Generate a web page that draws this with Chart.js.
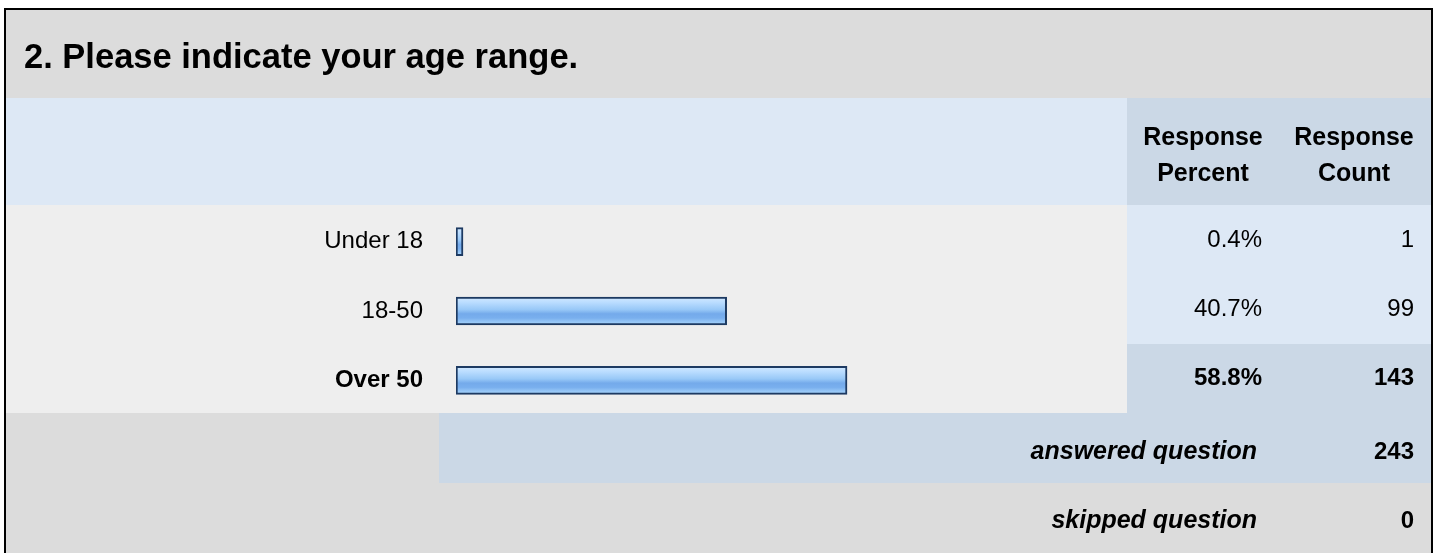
<!DOCTYPE html>
<html>
<head>
<meta charset="utf-8">
<script src="https://cdn.jsdelivr.net/npm/chart.js@4"></script>
<style>
  html, body { margin: 0; padding: 0; background: #ffffff; }
  #wrap { position: absolute; left: 0; top: 0; width: 1434px; height: 553px; }
</style>
</head>
<body>
<div id="wrap"><canvas id="c" width="1434" height="553"></canvas></div>
<script>
// ---- data ----
const title = "2. Please indicate your age range.";
const categories = ["Under 18", "18-50", "Over 50"];
const percents = [0.4, 40.7, 58.8];
const counts = [1, 99, 143];
const headerPercent = ["Response", "Percent"];
const headerCount = ["Response", "Count"];
const answeredLabel = "answered question";
const answeredCount = 243;
const skippedLabel = "skipped question";
const skippedCount = 0;

const FONT = '"Liberation Sans", Arial, Helvetica, sans-serif';
const maxIdx = percents.indexOf(Math.max(...percents));

const C_GRAY = '#dcdcdc', C_LIGHT = '#eeeeee', C_BLUE1 = '#dde8f5', C_BLUE2 = '#cbd8e6';

const tablePlugin = {
  id: 'table',
  beforeDraw(chart) {
    const ctx = chart.ctx;
    ctx.save();
    // outer background
    ctx.fillStyle = C_GRAY; ctx.fillRect(6, 10, 1425, 560);
    // header row
    ctx.fillStyle = C_BLUE1; ctx.fillRect(6, 98, 1121, 107);
    ctx.fillStyle = C_BLUE2; ctx.fillRect(1127, 98, 304, 107);
    // data rows
    ctx.fillStyle = C_LIGHT; ctx.fillRect(6, 205, 1121, 208);
    ctx.fillStyle = C_BLUE1; ctx.fillRect(1127, 205, 304, 208);
    // highlighted (max) row
    const rowH = 208 / categories.length;
    ctx.fillStyle = C_BLUE2; ctx.fillRect(1127, Math.round(205 + rowH * maxIdx), 304, Math.round(rowH));
    // answered row
    ctx.fillStyle = C_BLUE2; ctx.fillRect(439, 413, 992, 70);
    // outer border
    ctx.fillStyle = '#000';
    ctx.fillRect(4, 8, 1429, 2);
    ctx.fillRect(4, 8, 2, 560);
    ctx.fillRect(1431, 8, 2, 560);

    // title
    ctx.fillStyle = '#000';
    ctx.textBaseline = 'alphabetic';
    ctx.textAlign = 'left';
    ctx.font = 'bold 34.5px ' + FONT;
    ctx.fillText(title, 24, 68);
    // header
    ctx.textAlign = 'center';
    ctx.font = 'bold 25px ' + FONT;
    ctx.fillText(headerPercent[0], 1203, 145);
    ctx.fillText(headerPercent[1], 1203, 181);
    ctx.fillText(headerCount[0], 1354, 145);
    ctx.fillText(headerCount[1], 1354, 181);
    // footer
    ctx.textAlign = 'right';
    ctx.font = 'italic bold 25px ' + FONT;
    ctx.fillText(answeredLabel, 1257, 459);
    ctx.fillText(skippedLabel, 1257, 528);
    ctx.font = 'bold 24px ' + FONT;
    ctx.fillText(String(answeredCount), 1414, 459);
    ctx.fillText(String(skippedCount), 1414, 528);
    ctx.restore();
  },
  afterDatasetsDraw(chart) {
    const ctx = chart.ctx;
    const ys = chart.scales.y;
    ctx.save();
    ctx.fillStyle = '#000';
    ctx.textAlign = 'right';
    ctx.textBaseline = 'middle';
    categories.forEach((c, i) => {
      const y = ys.getPixelForValue(i) - 1.5;
      ctx.font = (i === maxIdx ? 'bold 24px ' : '24px ') + FONT;
      ctx.fillText(percents[i].toFixed(1) + '%', 1262, y);
      ctx.fillText(String(counts[i]), 1414, y);
    });
    ctx.restore();
  }
};

function barGradient(context) {
  const chart = context.chart;
  if (!chart.chartArea || !chart.scales.y) return '#8cc0f5';
  const y = chart.scales.y.getPixelForValue(context.dataIndex);
  const g = chart.ctx.createLinearGradient(0, y - 14, 0, y + 14);
  g.addColorStop(0.0, '#d2e9ff');
  g.addColorStop(0.2, '#b9dcff');
  g.addColorStop(0.45, '#98c8f7');
  g.addColorStop(0.6, '#74aaeb');
  g.addColorStop(0.75, '#79afee');
  g.addColorStop(0.9, '#98c8f7');
  g.addColorStop(1.0, '#a8d4fb');
  return g;
}

new Chart(document.getElementById('c'), {
  type: 'bar',
  data: {
    labels: categories,
    datasets: [{
      data: percents,
      backgroundColor: barGradient,
      borderColor: '#1d3a62',
      borderWidth: 2,
      borderSkipped: false,
      barThickness: 28,
      minBarLength: 7
    }]
  },
  options: {
    indexAxis: 'y',
    responsive: false,
    devicePixelRatio: 1,
    animation: false,
    layout: { padding: { left: 6, right: 313, top: 207, bottom: 138 } },
    plugins: { legend: { display: false }, tooltip: { enabled: false }, title: { display: false } },
    scales: {
      x: { display: false, min: 0, max: 100 },
      y: {
        grid: { display: false, drawTicks: false },
        border: { display: false },
        afterFit(scale) { scale.width = 450; },
        ticks: {
          padding: 33,
          color: '#000',
          font: (c) => ({ family: FONT, size: 24, weight: c.index === maxIdx ? 'bold' : 'normal' })
        }
      }
    }
  },
  plugins: [tablePlugin]
});
</script>
</body>
</html>
